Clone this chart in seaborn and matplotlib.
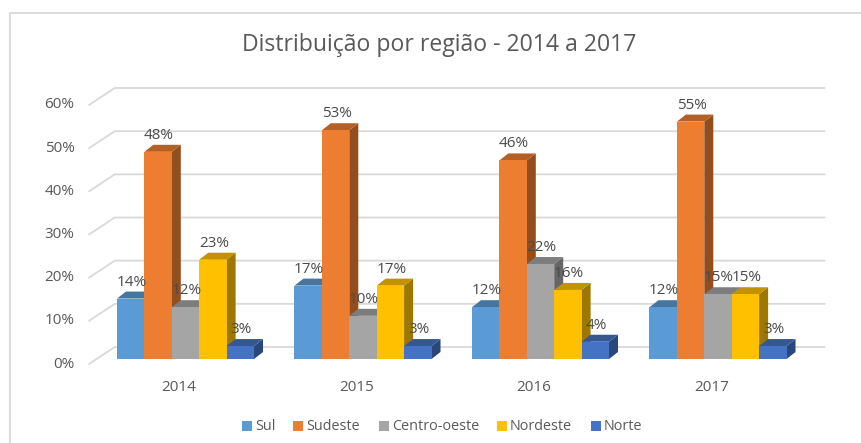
import numpy as np
import pandas as pd
import matplotlib
matplotlib.use("Agg")
import matplotlib.pyplot as plt
import seaborn as sns
from matplotlib.colors import to_rgb
from matplotlib.patches import Polygon, Rectangle
from matplotlib.transforms import ScaledTranslation

anos = ['2014', '2015', '2016', '2017']
regioes = ['Sul', 'Sudeste', 'Centro-oeste', 'Nordeste', 'Norte']
sul = [14, 17, 12, 12]
sudeste = [48, 53, 46, 55]
centro_oeste = [12, 10, 22, 15]
nordeste = [23, 17, 16, 15]
norte = [3, 3, 4, 3]
cores = ['#5B9BD5', '#ED7D31', '#A5A5A5', '#FFC000', '#4472C4']
ticks_y = [0, 10, 20, 30, 40, 50, 60]

W, H = 861, 443
# deslocamento da perspectiva, em pixels
BAR_DX, BAR_DY = 9, 7
BACK_DX, BACK_DY = 18, 12
FRONT_DX, FRONT_DY = 7.7, 5

sns.set_theme(style='white')
plt.rcParams['font.family'] = ['Open Sans', 'DejaVu Sans']

df = pd.DataFrame({
    'ano': anos * 5,
    'regiao': np.repeat(regioes, 4),
    'valor': sul + sudeste + centro_oeste + nordeste + norte,
})

fig = plt.figure(figsize=(W / 100, H / 100), dpi=100, facecolor='white')
# frente do grafico: y=0 em 359 px, y=60 em 100 px
ax = fig.add_axes([96.75 / W, (H - 359) / H, 710 / W, 259 / H])
sns.barplot(data=df, x='ano', y='valor', hue='regiao', order=anos, hue_order=regioes,
            palette=cores, width=0.772, gap=0, saturation=1, legend=False, linewidth=0, ax=ax)
ax.set_xlim(-0.5, 3.5)
ax.set_ylim(0, 60)
ax.patch.set_alpha(0)
for s in ax.spines.values():
    s.set_visible(False)
ax.set_xlabel('')
ax.set_ylabel('')
ax.set_yticks([])
ax.set_xticks(range(len(anos)))
ax.set_xticklabels(anos, fontsize=11, color='#595959')
ax.tick_params(axis='x', length=0, pad=15)
# rotulos do ano ficam no plano da frente, um pouco a esquerda das barras
desloca = ScaledTranslation(-6.5 / 100, 0, fig.dpi_scale_trans)
for lab in ax.get_xticklabels():
    lab.set_transform(lab.get_transform() + desloca)

ux = 4 / 710  # unidades de dados por pixel
uy = 60 / 259


def escurece(cor, f):
    return tuple(c * f for c in to_rgb(cor))


# linhas de grade com a parede do fundo
x_esq, x_dir = ax.get_xlim()
for t in ticks_y:
    ax.plot([x_esq - FRONT_DX * ux, x_esq + BACK_DX * ux, x_dir + BACK_DX * ux],
            [t - FRONT_DY * uy, t + BACK_DY * uy, t + BACK_DY * uy],
            color='#D9D9D9', lw=1.3, clip_on=False, zorder=0.5)
    ax.text(x_esq - 14.5 * ux - FRONT_DX * ux, t - FRONT_DY * uy, f'{t}%', ha='right', va='center',
            fontsize=11, color='#595959')

# faces 3D e rotulos, barra a barra
barras = list(ax.patches)[:len(df)]
for i, b in enumerate(barras):
    x0, w, h = b.get_x(), b.get_width(), b.get_height()
    z = 3 + (i // 4) * 0.01
    cor = cores[i // 4]
    b.set_zorder(z + 0.002)
    dx, dy = BAR_DX * ux, BAR_DY * uy
    ax.add_patch(Polygon([(x0 + w, 0), (x0 + w + dx, dy), (x0 + w + dx, h + dy), (x0 + w, h)],
                         closed=True, fc=escurece(cor, 0.62), ec='none', zorder=z, clip_on=False))
    ax.add_patch(Polygon([(x0, h), (x0 + dx, h + dy), (x0 + w + dx, h + dy), (x0 + w, h)],
                         closed=True, fc=escurece(cor, 0.76), ec='none', zorder=z, clip_on=False))
    ax.text(x0 + w / 2 + 1 * ux, h + 16.5 * uy, f'{int(h)}%', ha='center', va='center',
            fontsize=11, color='#4A4A4A', zorder=10, clip_on=False)

fig.text(439 / W, 1 - 45 / H, 'Distribuição por região - 2014 a 2017', ha='center', va='center',
         fontsize=16.6, color='#595959')

# legenda
x_leg = [242, 293, 379, 497, 591]
for nome, cor, xp in zip(regioes, cores, x_leg):
    fig.add_artist(Rectangle((xp / W, 1 - 431 / H), 10 / W, 10 / H, transform=fig.transFigure,
                             fc=cor, ec='none'))
    fig.text((xp + 13) / W, 1 - 426 / H, nome, ha='left', va='center', fontsize=10.4, color='#595959')

# moldura do grafico
fig.add_artist(plt.Line2D([10 / W, 10 / W, 1], [0, 1 - 13 / H, 1 - 13 / H], transform=fig.transFigure,
                          color='#D9D9D9', lw=1.3))

fig.savefig('out.png', dpi=100)
